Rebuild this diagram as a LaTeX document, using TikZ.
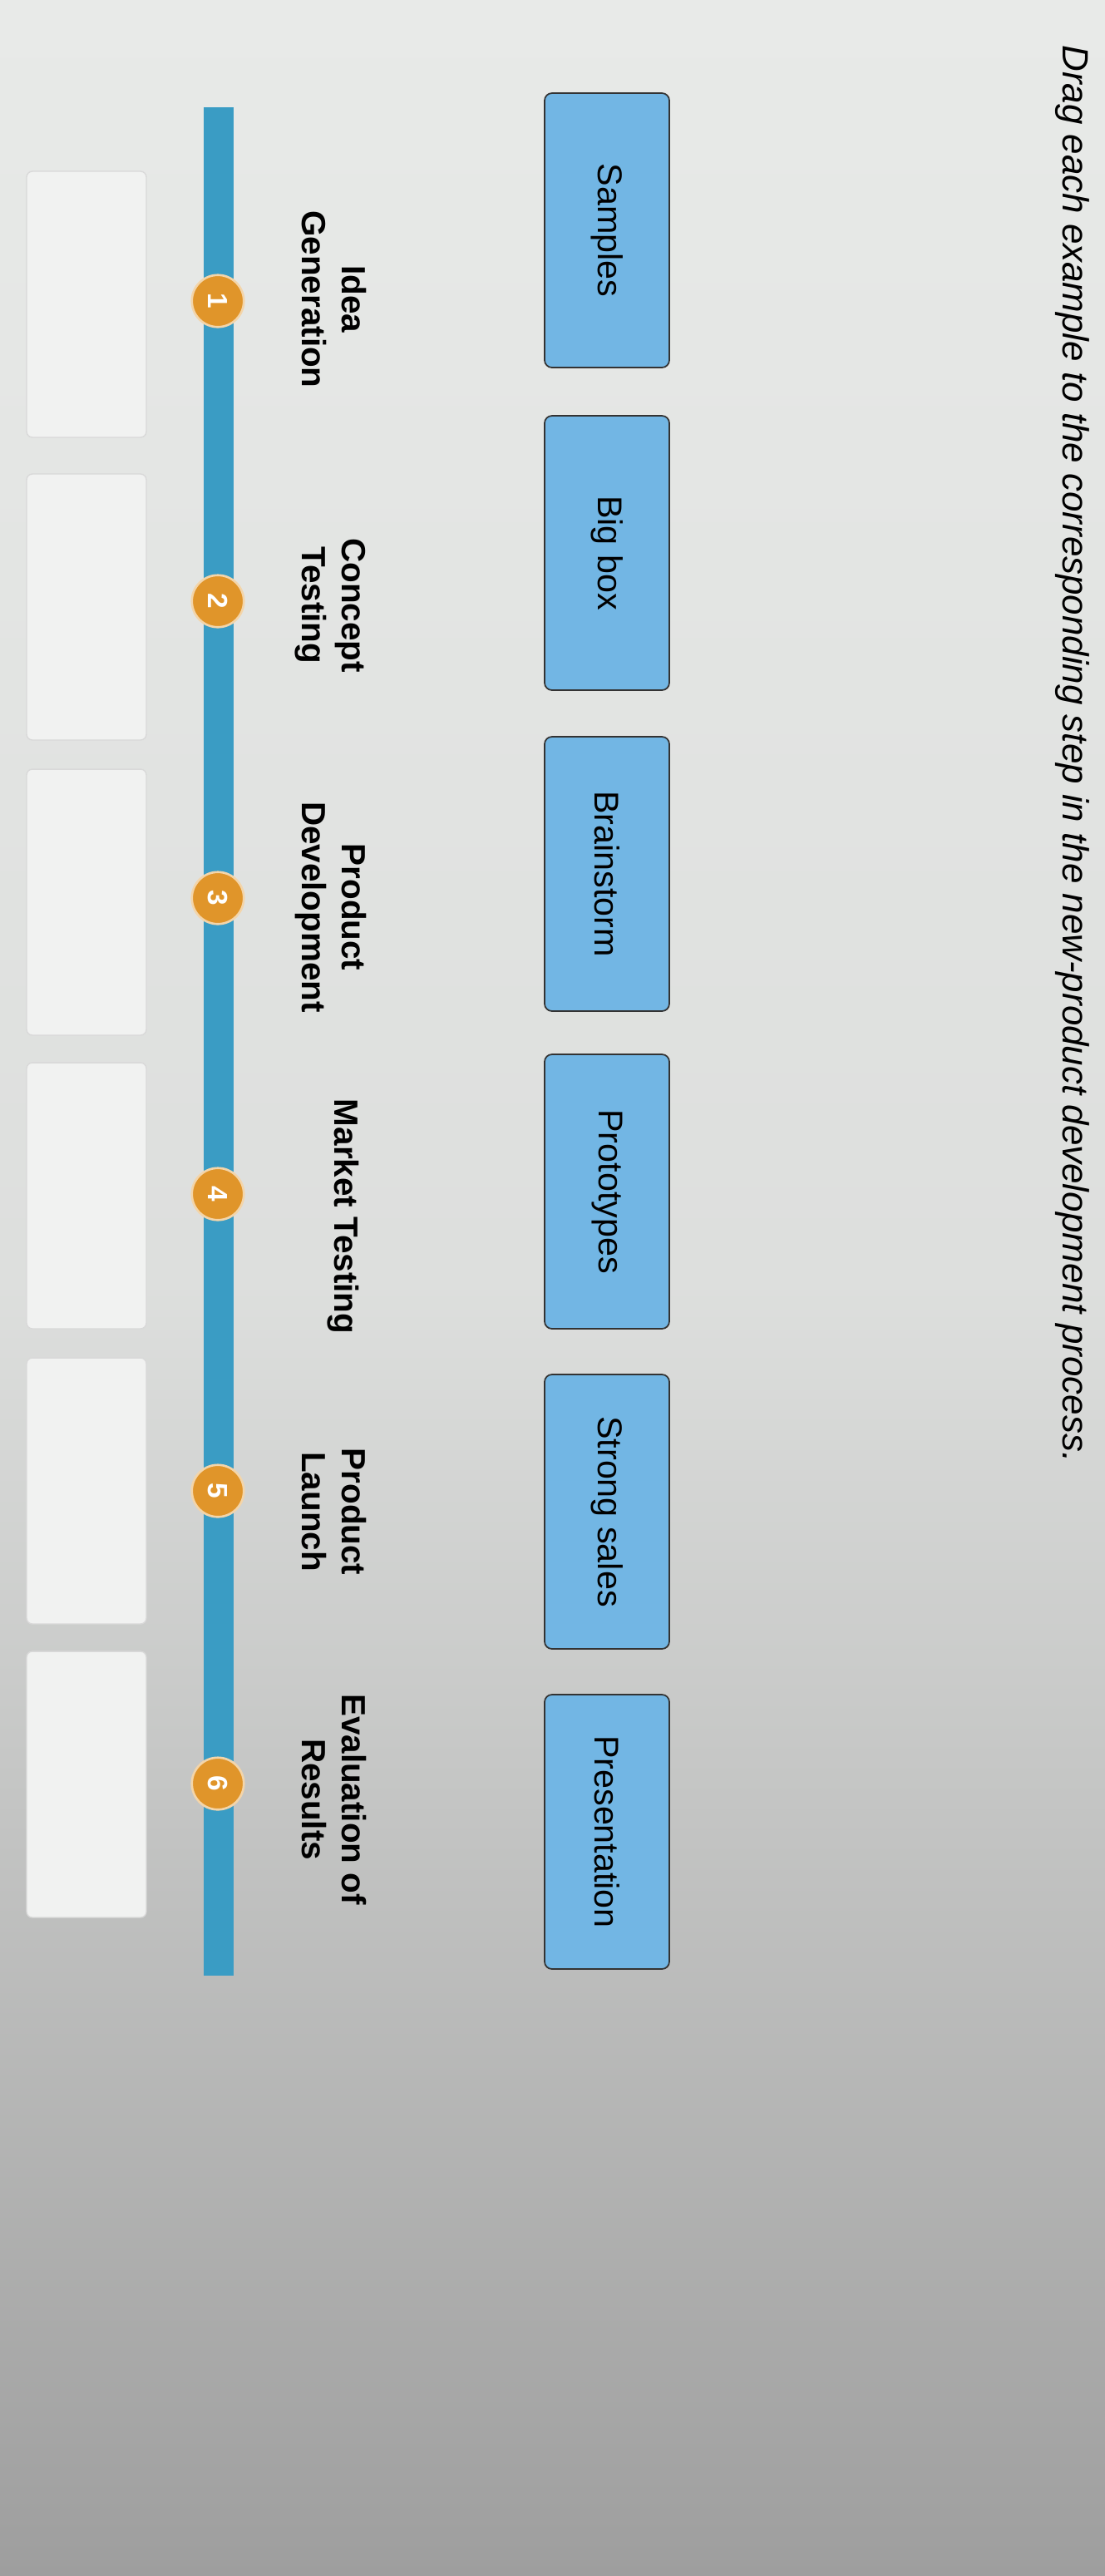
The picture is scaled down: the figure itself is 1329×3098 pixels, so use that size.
\documentclass[tikz,border=0pt]{standalone}
\usepackage{fontspec}
\setmainfont{Liberation Sans}
\usepackage{graphicx}
\definecolor{btnc}{HTML}{72B6E4}
\definecolor{barc}{HTML}{3A9CC4}
\definecolor{orc}{HTML}{E0952A}
\definecolor{bgtop}{HTML}{E8EAE8}
\definecolor{bgbot}{HTML}{9E9E9E}
\begin{document}
\begin{tikzpicture}[x=0.02cm,y=-0.02cm,
  btn/.style={draw=black!80,line width=1pt,rounded corners=5pt,fill=btnc,minimum width=3.0cm,minimum height=6.6cm,font=\fontsize{23.5}{26}\selectfont},
  drop/.style={draw=black!15,line width=0.8pt,rounded corners=4pt,fill=bgtop!60!white,minimum width=2.88cm,minimum height=6.4cm},
  stp/.style={font=\bfseries\fontsize{23}{27}\selectfont,align=center},
  num/.style={circle,fill=orc,draw=orc!40!white,line width=1.5pt,inner sep=0pt,minimum size=1.25cm,text=white,font=\bfseries\fontsize{19}{19}\selectfont}]
\shade[top color=bgtop,bottom color=bgbot,middle color=bgtop!85!bgbot] (0,0) rectangle (1329,3098);
\useasboundingbox (0,0) rectangle (1329,3098);
\node[anchor=north,inner sep=0pt,font=\itshape\fontsize{25}{28}\selectfont] (title) at (1290,54) {\rotatebox{-90}{Drag each example to the corresponding step in the new-product development process.}};
\node[btn] (b1) at (730,277) {\rotatebox{-90}{Samples}};
\node[btn] (b2) at (730,665) {\rotatebox{-90}{Big box}};
\node[btn] (b3) at (730,1051) {\rotatebox{-90}{Brainstorm}};
\node[btn] (b4) at (730,1433) {\rotatebox{-90}{Prototypes}};
\node[btn] (b5) at (730,1818) {\rotatebox{-90}{Strong sales}};
\node[btn] (b6) at (730,2203) {\rotatebox{-90}{Presentation}};
\node[stp] (s1) at (397,360) {\rotatebox{-90}{\begin{tabular}{c}Idea\\Generation\end{tabular}}};
\node[stp] (s2) at (397,728) {\rotatebox{-90}{\begin{tabular}{c}Concept\\Testing\end{tabular}}};
\node[stp] (s3) at (397,1091) {\rotatebox{-90}{\begin{tabular}{c}Product\\Development\end{tabular}}};
\node[stp] (s4) at (413,1463) {\rotatebox{-90}{Market Testing}};
\node[stp] (s5) at (397,1818) {\rotatebox{-90}{\begin{tabular}{c}Product\\Launch\end{tabular}}};
\node[stp] (s6) at (397,2164) {\rotatebox{-90}{\begin{tabular}{c}Evaluation of\\Results\end{tabular}}};
\fill[barc] (245,129) rectangle (281,2376);
\foreach \i/\y in {1/362,2/723,3/1080,4/1436,5/1793,6/2145}{
  \node[num] (n\i) at (262,\y) {\rotatebox{-90}{\i}};}
\node[drop] (d1) at (104,366) {};
\node[drop] (d2) at (104,730) {};
\node[drop] (d3) at (104,1085) {};
\node[drop] (d4) at (104,1438) {};
\node[drop] (d5) at (104,1793) {};
\node[drop] (d6) at (104,2146) {};
\end{tikzpicture}
\end{document}
